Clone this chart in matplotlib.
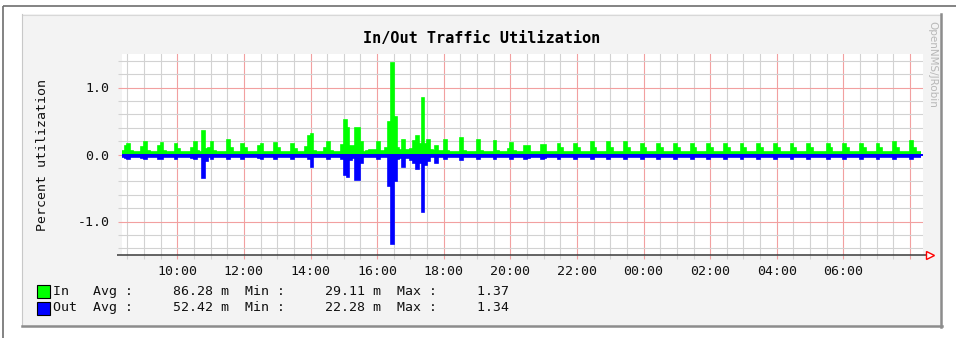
import numpy as np
import matplotlib
matplotlib.use("Agg")
import matplotlib.pyplot as plt
from matplotlib.patches import Rectangle
from matplotlib.ticker import MultipleLocator

# 5-minute samples starting at 08:20, one line per hour
start_hour = 8 + 20 / 60.0
step_hours = 5 / 60.0

in_util = [
    0.05, 0.13, 0.15, 0.05, 0.04, 0.04, 0.04, 0.11, 0.18, 0.05, 0.04, 0.04,  # 08:20
    0.04, 0.12, 0.17, 0.05, 0.04, 0.04, 0.04, 0.16, 0.08, 0.04, 0.04, 0.04,  # 09:20
    0.04, 0.10, 0.19, 0.05, 0.04, 0.35, 0.08, 0.09, 0.18, 0.05, 0.04, 0.04,  # 10:20
    0.04, 0.04, 0.21, 0.09, 0.04, 0.04, 0.04, 0.16, 0.10, 0.04, 0.04, 0.04,  # 11:20
    0.04, 0.12, 0.15, 0.04, 0.04, 0.04, 0.04, 0.17, 0.09, 0.04, 0.04, 0.04,  # 12:20
    0.04, 0.16, 0.08, 0.04, 0.04, 0.04, 0.11, 0.27, 0.30, 0.05, 0.04, 0.04,  # 13:20
    0.04, 0.09, 0.19, 0.05, 0.04, 0.04, 0.04, 0.14, 0.51, 0.40, 0.12, 0.12,  # 14:20
    0.39, 0.39, 0.19, 0.04, 0.05, 0.06, 0.07, 0.07, 0.19, 0.05, 0.05, 0.09,  # 15:20
    0.48, 1.37, 0.56, 0.10, 0.06, 0.21, 0.06, 0.06, 0.08, 0.20, 0.28, 0.16,  # 16:20
    0.85, 0.16, 0.22, 0.06, 0.05, 0.13, 0.05, 0.05, 0.22, 0.05, 0.04, 0.04,  # 17:20
    0.04, 0.04, 0.25, 0.05, 0.04, 0.04, 0.04, 0.04, 0.22, 0.05, 0.04, 0.04,  # 18:20
    0.04, 0.04, 0.20, 0.05, 0.04, 0.04, 0.04, 0.08, 0.17, 0.05, 0.04, 0.04,  # 19:20
    0.04, 0.12, 0.12, 0.04, 0.04, 0.04, 0.04, 0.14, 0.14, 0.04, 0.04, 0.04,  # 20:20
    0.04, 0.16, 0.09, 0.04, 0.04, 0.04, 0.04, 0.16, 0.09, 0.04, 0.04, 0.04,  # 21:20
    0.04, 0.18, 0.09, 0.04, 0.04, 0.04, 0.04, 0.18, 0.09, 0.04, 0.04, 0.04,  # 22:20
    0.04, 0.18, 0.09, 0.04, 0.04, 0.04, 0.04, 0.16, 0.09, 0.04, 0.04, 0.04,  # 23:20
    0.04, 0.16, 0.09, 0.04, 0.04, 0.04, 0.04, 0.16, 0.09, 0.04, 0.04, 0.04,  # 00:20
    0.04, 0.16, 0.09, 0.04, 0.04, 0.04, 0.04, 0.15, 0.09, 0.04, 0.04, 0.04,  # 01:20
    0.04, 0.15, 0.09, 0.04, 0.04, 0.04, 0.04, 0.15, 0.09, 0.04, 0.04, 0.04,  # 02:20
    0.04, 0.15, 0.09, 0.04, 0.04, 0.04, 0.04, 0.15, 0.09, 0.04, 0.04, 0.04,  # 03:20
    0.04, 0.16, 0.09, 0.04, 0.04, 0.04, 0.04, 0.16, 0.09, 0.04, 0.04, 0.04,  # 04:20
    0.04, 0.04, 0.16, 0.09, 0.04, 0.04, 0.04, 0.04, 0.16, 0.09, 0.04, 0.04,  # 05:20
    0.04, 0.04, 0.16, 0.09, 0.04, 0.04, 0.04, 0.04, 0.16, 0.09, 0.04, 0.04,  # 06:20
    0.04, 0.04, 0.18, 0.09, 0.04, 0.04, 0.04, 0.04, 0.20, 0.09, 0.04, 0.04,  # 07:20
]

out_util = [
    0.03, 0.05, 0.06, 0.03, 0.03, 0.03, 0.03, 0.05, 0.07, 0.03, 0.03, 0.03,  # 08:20
    0.03, 0.06, 0.06, 0.03, 0.03, 0.03, 0.03, 0.06, 0.04, 0.03, 0.03, 0.03,  # 09:20
    0.03, 0.05, 0.06, 0.03, 0.03, 0.35, 0.10, 0.04, 0.06, 0.03, 0.03, 0.03,  # 10:20
    0.03, 0.03, 0.06, 0.04, 0.03, 0.03, 0.03, 0.06, 0.04, 0.03, 0.03, 0.03,  # 11:20
    0.03, 0.05, 0.06, 0.03, 0.03, 0.03, 0.03, 0.06, 0.04, 0.03, 0.03, 0.03,  # 12:20
    0.03, 0.06, 0.04, 0.03, 0.03, 0.03, 0.04, 0.06, 0.18, 0.04, 0.03, 0.03,  # 13:20
    0.03, 0.04, 0.06, 0.03, 0.03, 0.03, 0.03, 0.06, 0.30, 0.33, 0.08, 0.05,  # 14:20
    0.38, 0.38, 0.12, 0.03, 0.03, 0.04, 0.04, 0.04, 0.06, 0.03, 0.03, 0.04,  # 15:20
    0.47, 1.34, 0.40, 0.06, 0.05, 0.18, 0.05, 0.05, 0.08, 0.13, 0.21, 0.12,  # 16:20
    0.86, 0.15, 0.10, 0.04, 0.03, 0.13, 0.03, 0.03, 0.06, 0.03, 0.03, 0.03,  # 17:20
    0.03, 0.03, 0.085, 0.03, 0.03, 0.03, 0.03, 0.03, 0.06, 0.03, 0.03, 0.03,  # 18:20
    0.03, 0.03, 0.06, 0.03, 0.03, 0.03, 0.03, 0.04, 0.06, 0.03, 0.03, 0.03,  # 19:20
    0.03, 0.06, 0.05, 0.03, 0.03, 0.03, 0.03, 0.06, 0.05, 0.03, 0.03, 0.03,  # 20:20
    0.03, 0.06, 0.03, 0.03, 0.03, 0.03, 0.03, 0.06, 0.03, 0.03, 0.03, 0.03,  # 21:20
    0.03, 0.06, 0.03, 0.03, 0.03, 0.03, 0.03, 0.06, 0.03, 0.03, 0.03, 0.03,  # 22:20
    0.03, 0.06, 0.03, 0.03, 0.03, 0.03, 0.03, 0.06, 0.03, 0.03, 0.03, 0.03,  # 23:20
    0.03, 0.06, 0.03, 0.03, 0.03, 0.03, 0.03, 0.06, 0.03, 0.03, 0.03, 0.03,  # 00:20
    0.03, 0.06, 0.03, 0.03, 0.03, 0.03, 0.03, 0.06, 0.03, 0.03, 0.03, 0.03,  # 01:20
    0.03, 0.06, 0.03, 0.03, 0.03, 0.03, 0.03, 0.06, 0.03, 0.03, 0.03, 0.03,  # 02:20
    0.03, 0.06, 0.03, 0.03, 0.03, 0.03, 0.03, 0.06, 0.03, 0.03, 0.03, 0.03,  # 03:20
    0.03, 0.06, 0.03, 0.03, 0.03, 0.03, 0.03, 0.06, 0.03, 0.03, 0.03, 0.03,  # 04:20
    0.03, 0.03, 0.06, 0.03, 0.03, 0.03, 0.03, 0.03, 0.06, 0.03, 0.03, 0.03,  # 05:20
    0.03, 0.03, 0.06, 0.03, 0.03, 0.03, 0.03, 0.03, 0.06, 0.03, 0.03, 0.03,  # 06:20
    0.03, 0.03, 0.06, 0.03, 0.03, 0.03, 0.03, 0.03, 0.06, 0.03, 0.03, 0.03,  # 07:20
]

hour_ticks = [10, 12, 14, 16, 18, 20, 22, 24, 26, 28, 30, 32]
hour_labels = ["10:00", "12:00", "14:00", "16:00", "18:00", "20:00",
               "22:00", "00:00", "02:00", "04:00", "06:00", ""]
y_ticks = [-1.0, 0.0, 1.0]
y_labels = ["-1.0", "0.0", "1.0"]

series_names = ["In", "Out"]
series_colors = ["#00ff00", "#0000ff"]
avg_text = ["86.28 m", "52.42 m"]
min_text = ["29.11 m", "22.28 m"]
max_text = ["1.37", "1.34"]

plt.rcParams["font.family"] = "DejaVu Sans Mono"

W, H = 956, 338
fig = plt.figure(figsize=(W / 100, H / 100), dpi=100)
fig.patch.set_facecolor("white")

# background layer in pixel coordinates
bg = fig.add_axes([0, 0, 1, 1], zorder=0)
bg.set_xlim(0, W)
bg.set_ylim(H, 0)
bg.axis("off")

# page frame
bg.plot([3.5, W], [5.5, 5.5], color="#6e6e6e", lw=1.2, solid_capstyle="butt")
bg.plot([3.5, 3.5], [5.5, H], color="#6e6e6e", lw=1.2, solid_capstyle="butt")

# graph panel with bevelled edges
bg.add_patch(Rectangle((22, 14), 919, 312, facecolor="#f3f3f3", edgecolor="none"))
bg.plot([22, 941], [14.5, 14.5], color="#d8d8d8", lw=0.8)
bg.plot([22.5, 22.5], [14, 326], color="#c8c8c8", lw=0.8)
bg.plot([941, 941], [14, 327], color="#8c8c8c", lw=1.8)
bg.plot([22, 942], [326, 326], color="#8c8c8c", lw=1.8)

bg.text(481.5, 38, "In/Out Traffic Utilization", ha="center", va="center",
        fontsize=11, fontweight="bold", color="black")
bg.text(43, 155, "Percent utilization", rotation=90, ha="center", va="center",
        fontsize=9.5, color="#111111")
bg.text(932, 64, "OpenNMS/JRobin", rotation=270, ha="center", va="center",
        fontsize=7.5, family="DejaVu Sans", color="#b8b8b8")

# legend with gprint-style statistics
for row, name in enumerate(series_names):
    y = 291 + row * 17
    bg.add_patch(Rectangle((37.5, y - 6.5), 13, 13, facecolor=series_colors[row],
                           edgecolor="black", lw=0.8))
    line = (f"{name:<5}Avg :{avg_text[row]:>12}  "
            f"Min :{min_text[row]:>12}  Max :{max_text[row]:>9}")
    bg.text(53, y, line, ha="left", va="center", fontsize=9.5, color="#111111")

# plot area
left, right, top, bottom = 122, 923, 54, 255
ax = fig.add_axes([left / W, 1 - bottom / H, (right - left) / W, (bottom - top) / H],
                  zorder=1)
ax.set_facecolor("white")

edges = start_hour + np.arange(len(in_util) + 1) * step_hours
in_vals = np.array(in_util)
out_vals = -np.array(out_util)

# areas plus a 2px outline, the way rrd-style graphs stroke them
ax.stairs(in_vals, edges, baseline=0, fill=True, color=series_colors[0], lw=0, zorder=3)
ax.stairs(in_vals, edges, baseline=None, color=series_colors[0], lw=1.2, zorder=3)
ax.stairs(out_vals, edges, baseline=0, fill=True, color=series_colors[1], lw=0, zorder=4)
ax.stairs(out_vals, edges, baseline=None, color=series_colors[1], lw=1.2, zorder=4)
ax.axhline(0, color=series_colors[1], lw=1.4, zorder=4)

ax.set_xlim(8.34, 32.39)
ax.set_ylim(-1.5, 1.5)
ax.set_xticks(hour_ticks)
ax.set_xticklabels(hour_labels)
ax.xaxis.set_minor_locator(MultipleLocator(0.5))
ax.set_yticks(y_ticks)
ax.set_yticklabels(y_labels)
ax.yaxis.set_minor_locator(MultipleLocator(0.2))

ax.set_axisbelow(True)
ax.grid(which="minor", color="#d2d2d2", lw=0.8)
ax.grid(which="major", color="#f2a0a0", lw=0.8)
ax.tick_params(which="both", direction="out", length=3, width=0.8,
               labelsize=9.5, labelcolor="#111111")
ax.tick_params(which="major", color="#f2a0a0")
ax.tick_params(which="minor", color="#d2d2d2")
ax.tick_params(axis="x", pad=4)
ax.tick_params(axis="y", pad=6)
for s in ax.spines.values():
    s.set_visible(False)

# x axis line with open arrow head, drawn above the plot area
fg = fig.add_axes([0, 0, 1, 1], zorder=2)
fg.set_xlim(0, W)
fg.set_ylim(H, 0)
fg.axis("off")
fg.plot([117, 928], [255, 255], color="#3a3a3a", lw=1.1, solid_capstyle="butt")
fg.plot([930.5], [255], marker=">", ms=5.5, mfc="white", mec="red", mew=1.0)

fig.savefig("out.png", dpi=100)
